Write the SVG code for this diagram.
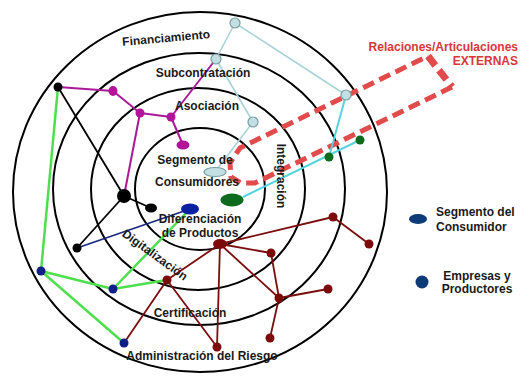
<svg xmlns="http://www.w3.org/2000/svg" width="522" height="376" viewBox="0 0 522 376">
<style>
text{font-family:"Liberation Sans",Arial,sans-serif;font-weight:bold;font-size:12px;fill:#1a1a1a}
.ring{fill:none;stroke:#000;stroke-width:2}
.lb{stroke:#a9d3d7;stroke-width:1.6}
.mg{stroke:#ab1996;stroke-width:2}
.bk{stroke:#000;stroke-width:1.8}
.nv{stroke:#1b2a80;stroke-width:1.8}
.gr{stroke:#4ddf4d;stroke-width:2.5}
.cy{stroke:#55d4e0;stroke-width:2}
.dr{stroke:#7a0d0d;stroke-width:1.8}
.nlb{fill:#c2e0e4;stroke:#7d9ea3;stroke-width:1.2}
.nmg{fill:#b3139a}
.nbk{fill:#000}
.ngr{fill:#0c6b1d}
.nnv{fill:#0e1f85}
.ndr{fill:#7c0a0a}
.ext{fill:none;stroke:#e14b4b;stroke-dasharray:12 6}
.red{fill:#d8373a}
</style>
<g id="rings">
<ellipse class="ring" cx="200" cy="192" rx="187" ry="180"/>
<ellipse class="ring" cx="199" cy="189" rx="146" ry="136"/>
<ellipse class="ring" cx="198" cy="189" rx="107" ry="101"/>
<ellipse class="ring" cx="200" cy="189" rx="65" ry="61"/>
</g>
<g id="externas">
<path class="ext" stroke-width="5" d="M452,87 L255,183 L241,183 L231,177 L230,163 L240,148 L428,56"/>
<path class="ext" stroke-width="7" d="M428,56 L452,87"/>
</g>
<g id="connectors">
<line class="lb" x1="235" y1="23" x2="216" y2="59"/>
<line class="lb" x1="235" y1="23" x2="346" y2="95"/>
<line class="lb" x1="216" y1="59" x2="253" y2="122"/>
<line class="lb" x1="253" y1="122" x2="215" y2="172"/>
<line class="mg" x1="58" y1="87" x2="113" y2="91"/>
<line class="mg" x1="113" y1="91" x2="140" y2="113"/>
<line class="mg" x1="140" y1="113" x2="171" y2="117"/>
<line class="mg" x1="171" y1="117" x2="183" y2="145"/>
<line class="mg" x1="171" y1="117" x2="216" y2="59"/>
<line class="mg" x1="140" y1="113" x2="124" y2="196"/>
<line class="bk" x1="58" y1="87" x2="124" y2="196"/>
<line class="bk" x1="124" y1="196" x2="151" y2="208"/>
<line class="bk" x1="124" y1="196" x2="77" y2="248"/>
<line class="nv" x1="77" y1="248" x2="190" y2="209"/>
<line class="gr" x1="58" y1="87" x2="41" y2="271"/>
<line class="gr" x1="41" y1="271" x2="113" y2="289"/>
<line class="gr" x1="113" y1="289" x2="167" y2="280"/>
<line class="gr" x1="41" y1="271" x2="124" y2="343"/>
<line class="gr" x1="113" y1="289" x2="190" y2="209"/>
<line class="cy" x1="346" y1="95" x2="329" y2="157"/>
<line class="cy" x1="360" y1="140" x2="243" y2="197"/>
<line class="dr" x1="124" y1="343" x2="167" y2="280"/>
<line class="dr" x1="167" y1="280" x2="220" y2="244"/>
<line class="dr" x1="167" y1="280" x2="217" y2="347"/>
<line class="dr" x1="220" y1="244" x2="217" y2="347"/>
<line class="dr" x1="220" y1="244" x2="333" y2="217"/>
<line class="dr" x1="333" y1="217" x2="369" y2="244"/>
<line class="dr" x1="220" y1="244" x2="271" y2="253"/>
<line class="dr" x1="220" y1="244" x2="279" y2="298"/>
<line class="dr" x1="271" y1="253" x2="279" y2="298"/>
<line class="dr" x1="279" y1="298" x2="328" y2="289"/>
<line class="dr" x1="279" y1="298" x2="270" y2="338"/>
</g>
<g id="L1"><circle class="nlb" cx="235" cy="23" r="5"/></g>
<g id="L2"><circle class="nlb" cx="216" cy="59" r="5"/></g>
<g id="L3"><circle class="nlb" cx="346" cy="95" r="5"/></g>
<g id="L4"><circle class="nlb" cx="253" cy="122" r="5"/></g>
<g id="L5"><ellipse class="nlb" cx="215" cy="172" rx="11" ry="4.5"/></g>
<g id="M1"><ellipse class="nmg" cx="113" cy="91" rx="4.5" ry="5"/></g>
<g id="M2"><circle class="nmg" cx="140" cy="113" r="4.5"/></g>
<g id="M3"><circle class="nmg" cx="171" cy="117" r="4.5"/></g>
<g id="M4"><ellipse class="nmg" cx="183" cy="145" rx="6.5" ry="4.5"/></g>
<g id="K1"><circle class="nbk" cx="58" cy="87" r="4.5"/></g>
<g id="K2"><circle class="nbk" cx="124" cy="196" r="7"/></g>
<g id="K3"><ellipse class="nbk" cx="151" cy="208" rx="6" ry="4.5"/></g>
<g id="K4"><circle class="nbk" cx="77" cy="248" r="4.5"/></g>
<g id="G1"><circle class="ngr" cx="329" cy="157" r="4.5"/></g>
<g id="G2"><circle class="ngr" cx="360" cy="140" r="4.5"/></g>
<g id="G3"><ellipse class="ngr" cx="232" cy="200" rx="11.5" ry="6.5"/></g>
<g id="B0"><ellipse fill="#0b20a0" cx="190" cy="209" rx="9" ry="5.5"/></g>
<g id="B1"><circle class="nnv" cx="41" cy="271" r="4.5"/></g>
<g id="B2"><circle class="nnv" cx="113" cy="289" r="4.5"/></g>
<g id="B3"><circle class="nnv" cx="124" cy="343" r="4.5"/></g>
<g id="R1"><circle class="ndr" cx="167" cy="280" r="4.5"/></g>
<g id="R2"><ellipse class="ndr" cx="220" cy="244" rx="7" ry="5"/></g>
<g id="R3"><circle class="ndr" cx="217" cy="347" r="4.5"/></g>
<g id="R4"><circle class="ndr" cx="271" cy="253" r="4.5"/></g>
<g id="R5"><circle class="ndr" cx="279" cy="298" r="4.5"/></g>
<g id="R6"><circle class="ndr" cx="328" cy="289" r="4.5"/></g>
<g id="R7"><circle class="ndr" cx="270" cy="338" r="4.5"/></g>
<g id="R8"><circle class="ndr" cx="333" cy="217" r="4.5"/></g>
<g id="R9"><circle class="ndr" cx="369" cy="244" r="4.5"/></g>
<g id="labels">
<text x="166" y="42" font-size="13" text-anchor="middle" transform="rotate(-5 166 37)">Financiamiento</text>
<text x="203" y="77" text-anchor="middle">Subcontratación</text>
<text x="207" y="110" text-anchor="middle">Asociación</text>
<text x="195" y="164" text-anchor="middle">Segmento de</text>
<text x="197" y="186" text-anchor="middle">Consumidores</text>
<text x="200" y="223" text-anchor="middle">Diferenciación</text>
<text x="200" y="237" text-anchor="middle">de Productos</text>
<text x="281" y="180" text-anchor="middle" transform="rotate(90 281 176)">Integración</text>
<text x="155" y="259" text-anchor="middle" transform="rotate(36 155 255)">Digitalización</text>
<text x="190" y="317" text-anchor="middle">Certificación</text>
<text x="202" y="360" text-anchor="middle">Administración del Riesgo</text>
</g>
<g id="ext-label">
<text class="red" x="518" y="51" text-anchor="end">Relaciones/Articulaciones</text>
<text class="red" x="518" y="65" text-anchor="end">EXTERNAS</text>
</g>
<g id="legend-segmento">
<ellipse cx="418" cy="219" rx="9" ry="5" fill="#0d3b78"/>
<text x="436" y="216">Segmento del</text>
<text x="436" y="231">Consumidor</text>
</g>
<g id="legend-empresas">
<circle cx="422" cy="282" r="6.5" fill="#0d3b78"/>
<text x="477" y="280" text-anchor="middle">Empresas y</text>
<text x="477" y="293" text-anchor="middle">Productores</text>
</g>
</svg>
